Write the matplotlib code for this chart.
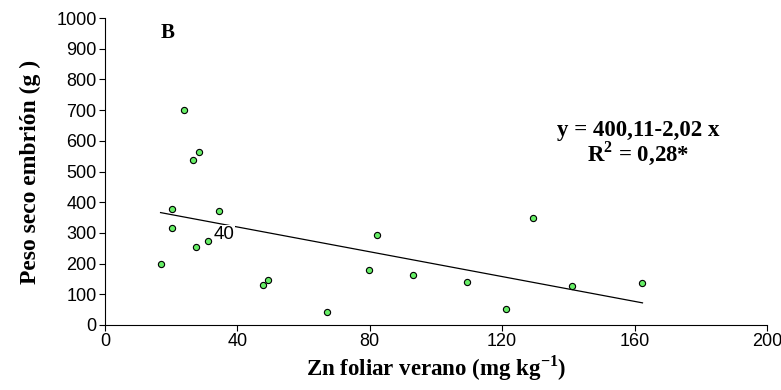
import numpy as np
import matplotlib.pyplot as plt
from matplotlib import font_manager

# data
zn_verano = [16.8, 20.3, 20.3, 23.8, 26.7, 28.3, 27.6, 31.1, 34.5, 47.7, 49.3,
             67.1, 79.8, 82.1, 93.2, 109.5, 121.3, 129.2, 141.0, 162.4]
peso_seco = [200, 379, 317, 699, 537, 564, 255, 272, 372, 131, 146,
             42, 180, 293, 163, 139, 52, 349, 128, 136]
intercept = 400.11
slope = -2.02

x_ticks = [0, 40, 80, 120, 160, 200]
y_ticks = [0, 100, 200, 300, 400, 500, 600, 700, 800, 900, 1000]

names = {f.name for f in font_manager.fontManager.ttflist}
tick_font = 'Liberation Sans Narrow' if 'Liberation Sans Narrow' in names else 'Liberation Sans'
serif = 'Liberation Serif'

fig = plt.figure(figsize=(7.81, 3.90), dpi=100)
ax = fig.add_axes([0.1344, 0.1667, 0.8476, 0.7871])

ax.scatter(zn_verano, peso_seco, s=20, color='#66ee66', edgecolors='black',
           linewidths=0.8, zorder=3)

xfit = np.array([min(zn_verano), max(zn_verano)])
ax.plot(xfit, intercept + slope * xfit, color='black', lw=0.9, zorder=2)

# stray "40" label sitting on the trend line
ax.text(36.0, 294, '40', family='Liberation Sans', fontsize=13.5,
        ha='center', va='center', zorder=4,
        bbox=dict(facecolor='white', edgecolor='none', pad=0.5))

ax.set_xlim(0, 200)
ax.set_ylim(0, 1000)
ax.set_xticks(x_ticks)
ax.set_yticks(y_ticks)
for lab in ax.get_xticklabels() + ax.get_yticklabels():
    lab.set_family(tick_font)
    lab.set_fontsize(13)
ax.tick_params(direction='out', length=4, width=0.8, pad=2)

ax.spines['top'].set_visible(False)
ax.spines['right'].set_visible(False)

ax.set_xlabel('Zn foliar verano (mg kg$^{\\mathregular{-1}}$)', family=serif,
              fontweight='bold', fontsize=16.5, labelpad=2)
ax.set_ylabel('Peso seco embrión (g )', family=serif, fontweight='bold',
              fontsize=17, labelpad=11)

ax.text(0.095, 0.951, 'B', transform=ax.transAxes, family=serif,
        fontweight='bold', fontsize=15, ha='center', va='center')
ax.text(0.805, 0.591, 'y = 400,11-2,02 x\nR$^{\\mathregular{2}}$ = 0,28*',
        transform=ax.transAxes, family=serif, fontweight='bold', fontsize=16.5,
        ha='center', va='center', linespacing=0.95)

fig.savefig('out.png', dpi=100)
